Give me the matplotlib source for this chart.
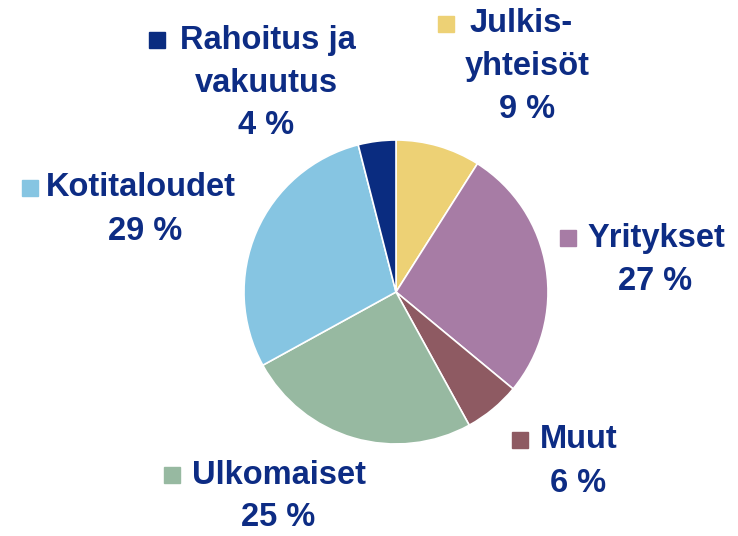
import matplotlib.pyplot as plt

# data
labels = ["Julkis-\nyhteisöt", "Yritykset", "Muut", "Ulkomaiset", "Kotitaloudet", "Rahoitus ja\nvakuutus"]
values = [9, 27, 6, 25, 29, 4]
colors = ["#EDD175", "#A77CA5", "#8E5A62", "#97B9A1", "#86C5E2", "#0A2C80"]

text_color = "#0D2C84"
plt.rcParams['font.family'] = ['Liberation Sans', 'DejaVu Sans']

fig = plt.figure(figsize=(7.38, 5.36), dpi=100)
ax = fig.add_axes([0, 0, 1, 1])

ax.pie(values, colors=colors, startangle=90, counterclock=False,
       center=(396, 536 - 292), radius=152,
       wedgeprops=dict(edgecolor='white', linewidth=1.2), frame=True)
ax.set_xlim(0, 738)
ax.set_ylim(0, 536)
ax.axis('off')

# label placement: (marker x, first line y, text left x, center x for following lines)
pos = [
    (446, 24, 470, 527),
    (568, 238, 588, 655),
    (520, 440, 540, 578),
    (172, 475, 192, 278),
    (30, 188, 46, 145),
    (157, 40, 180, 266),
]

fs = 23.5
for lab, v, c, (mx, y, tx, cx) in zip(labels, values, colors, pos):
    lines = lab.split("\n")
    ax.plot([mx], [536 - y], marker='s', ms=11, color=c, mec=c)
    ax.text(tx, 536 - y, lines[0], fontsize=fs, fontweight='bold', color=text_color,
            ha='left', va='center')
    yy = y
    for ln in lines[1:] + [f"{v} %"]:
        yy += 43
        ax.text(cx, 536 - yy, ln, fontsize=fs, fontweight='bold', color=text_color,
                ha='center', va='center')

fig.savefig("out.png", dpi=100)
